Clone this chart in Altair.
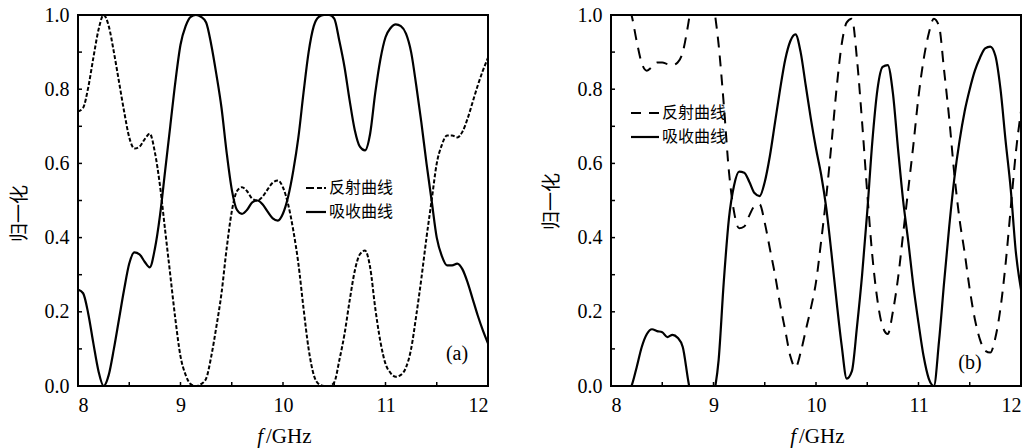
import altair as alt
import pandas as pd

# ---------------- data ----------------
freq_ghz = [8.00, 8.05, 8.10, 8.15, 8.20, 8.25, 8.30, 8.35, 8.40, 8.45,
            8.50, 8.55, 8.60, 8.65, 8.70, 8.75, 8.80, 8.85, 8.90, 8.95,
            9.00, 9.05, 9.10, 9.15, 9.20, 9.25, 9.30, 9.35, 9.40, 9.45,
            9.50, 9.55, 9.60, 9.65, 9.70, 9.75, 9.80, 9.85, 9.90, 9.95,
            10.00, 10.05, 10.10, 10.15, 10.20, 10.25, 10.30, 10.35, 10.40, 10.45,
            10.50, 10.55, 10.60, 10.65, 10.70, 10.75, 10.80, 10.85, 10.90, 10.95,
            11.00, 11.05, 11.10, 11.15, 11.20, 11.25, 11.30, 11.35, 11.40, 11.45,
            11.50, 11.55, 11.60, 11.65, 11.70, 11.75, 11.80, 11.85, 11.90, 11.95,
            12.00]

# panel (a)
refl_a = [0.74, 0.75, 0.805, 0.885, 0.96, 1.0, 0.97, 0.90, 0.82, 0.74,
          0.67, 0.64, 0.645, 0.665, 0.68, 0.63, 0.54, 0.42, 0.30, 0.18,
          0.08, 0.03, 0.005, 0.0, 0.005, 0.02, 0.08, 0.16, 0.25, 0.37,
          0.47, 0.525, 0.536, 0.525, 0.505, 0.50, 0.51, 0.53, 0.548, 0.554,
          0.535, 0.49, 0.42, 0.33, 0.21, 0.10, 0.03, 0.005, 0.0, 0.0,
          0.01, 0.07, 0.14, 0.23, 0.31, 0.355, 0.365, 0.32, 0.21, 0.12,
          0.06, 0.035, 0.025, 0.03, 0.05, 0.10, 0.19, 0.29, 0.40, 0.50,
          0.60, 0.65, 0.675, 0.675, 0.67, 0.685, 0.72, 0.765, 0.81, 0.85,
          0.885]
abs_a = [0.26, 0.25, 0.195, 0.115, 0.04, 0.0, 0.03, 0.10, 0.18, 0.26,
         0.33, 0.36, 0.355, 0.335, 0.32, 0.37, 0.46, 0.58, 0.70, 0.82,
         0.92, 0.97, 0.995, 1.0, 0.995, 0.98, 0.92, 0.84, 0.75, 0.63,
         0.53, 0.475, 0.464, 0.475, 0.495, 0.50, 0.49, 0.47, 0.452, 0.446,
         0.465, 0.51, 0.58, 0.67, 0.79, 0.90, 0.97, 0.995, 1.0, 1.0,
         0.99, 0.93, 0.86, 0.77, 0.69, 0.645, 0.635, 0.68, 0.79, 0.88,
         0.94, 0.965, 0.975, 0.97, 0.95, 0.90, 0.81, 0.71, 0.60, 0.50,
         0.40, 0.35, 0.325, 0.325, 0.33, 0.315, 0.28, 0.235, 0.19, 0.15,
         0.115]

# panel (b)  (values beyond 0..1 leave the frame and are clipped)
refl_b = [1.10, 1.08, 1.06, 1.03, 1.0, 0.93, 0.87, 0.85, 0.86, 0.872,
          0.872, 0.868, 0.865, 0.872, 0.90, 0.97, 1.06, 1.12, 1.15, 1.12,
          1.03, 0.92, 0.76, 0.58, 0.47, 0.425, 0.43, 0.46, 0.485, 0.49,
          0.44, 0.37, 0.30, 0.22, 0.15, 0.08, 0.05, 0.09, 0.15, 0.21,
          0.28, 0.39, 0.51, 0.65, 0.80, 0.92, 0.98, 0.99, 0.88, 0.71,
          0.52, 0.35, 0.23, 0.16, 0.14, 0.20, 0.29, 0.41, 0.53, 0.65,
          0.78, 0.88, 0.95, 0.99, 0.97, 0.85, 0.72, 0.57, 0.45, 0.36,
          0.26, 0.18, 0.125, 0.095, 0.09, 0.13, 0.21, 0.33, 0.48, 0.63,
          0.74]
abs_b = [-0.10, -0.08, -0.05, -0.02, 0.0, 0.05, 0.105, 0.14, 0.153, 0.148,
         0.145, 0.132, 0.138, 0.13, 0.105, 0.02, -0.06, -0.12, -0.14, -0.10,
         -0.03, 0.07, 0.28, 0.45, 0.54, 0.578, 0.575, 0.55, 0.52, 0.512,
         0.55, 0.62, 0.71, 0.80, 0.88, 0.93, 0.948, 0.90, 0.81, 0.72,
         0.64, 0.57, 0.48, 0.36, 0.23, 0.11, 0.02, 0.04, 0.16, 0.30,
         0.47, 0.66, 0.80, 0.86, 0.865, 0.79, 0.64, 0.50, 0.39, 0.27,
         0.17, 0.08, 0.02, 0.0, 0.12, 0.28, 0.43, 0.56, 0.66, 0.74,
         0.80, 0.85, 0.885, 0.91, 0.915, 0.89, 0.80, 0.66, 0.53, 0.36,
         0.26]

x_tick_values = [8.0, 8.5, 9.0, 9.5, 10.0, 10.5, 11.0, 11.5, 12.0]
y_tick_values = [0.0, 0.1, 0.2, 0.3, 0.4, 0.5, 0.6, 0.7, 0.8, 0.9, 1.0]
x_label_values = [8, 9, 10, 11, 12]
y_label_values = [0.0, 0.2, 0.4, 0.6, 0.8, 1.0]
legend_names = ["反射曲线", "吸收曲线"]
y_title = "归一化"
x_title_italic = "f"
x_title_rest = "/GHz"
panel_tags = ["(a)", "(b)"]

# ---------------- layout ----------------
W, H = 410, 371
SERIF = "Liberation Serif"
CJK = "Noto Sans CJK SC"
ROW = 24


def panel(refl, absb, curve_dash, legend_dash, lx0, lx1, ly, tag, tag_x, tag_y,
          title_x, title_y):
    xs = alt.Scale(domain=[8, 12], nice=False, zero=False)
    ys = alt.Scale(domain=[0, 1], nice=False, zero=False)
    x_axis = alt.Axis(values=x_label_values, format="d", ticks=False, tickSize=0,
                      domain=False, grid=False, labelPadding=9, title=None,
                      labelFont=SERIF, labelFontSize=20, labelColor="black")
    y_axis = alt.Axis(values=y_label_values, format=".1f", ticks=False, tickSize=0,
                      domain=False, grid=False, labelPadding=9, title=y_title,
                      titleFont=CJK, titleFontSize=19, titleFontWeight="normal",
                      titleColor="black", titleX=title_x, titleY=title_y,
                      titleBaseline="middle", titleAlign="center",
                      labelFont=SERIF, labelFontSize=20, labelColor="black")

    df_r = pd.DataFrame({"f": freq_ghz, "v": refl})
    df_a = pd.DataFrame({"f": freq_ghz, "v": absb})

    r_line = alt.Chart(df_r).mark_line(
        clip=True, color="black", strokeWidth=2, strokeDash=curve_dash,
        interpolate="monotone"
    ).encode(x=alt.X("f:Q", scale=xs, axis=x_axis),
             y=alt.Y("v:Q", scale=ys, axis=y_axis))
    a_line = alt.Chart(df_a).mark_line(
        clip=True, color="black", strokeWidth=2.2, interpolate="monotone"
    ).encode(x=alt.X("f:Q", scale=xs), y=alt.Y("v:Q", scale=ys))

    xt = alt.Chart(pd.DataFrame({"f": x_tick_values})).mark_rule(
        color="black", strokeWidth=1.5
    ).encode(x=alt.X("f:Q", scale=xs), y=alt.value(H), y2=alt.value(H - 4))
    yt = alt.Chart(pd.DataFrame({"v": y_tick_values})).mark_rule(
        color="black", strokeWidth=1.5
    ).encode(y=alt.Y("v:Q", scale=ys), x=alt.value(0), x2=alt.value(4))

    leg_r = alt.Chart(pd.DataFrame({"k": [0]})).mark_rule(
        color="black", strokeWidth=2, strokeDash=legend_dash
    ).encode(x=alt.value(lx0), x2=alt.value(lx1), y=alt.value(ly))
    leg_a = alt.Chart(pd.DataFrame({"k": [0]})).mark_rule(
        color="black", strokeWidth=2.2
    ).encode(x=alt.value(lx0), x2=alt.value(lx1), y=alt.value(ly + ROW))
    leg_t1 = alt.Chart(pd.DataFrame({"t": [legend_names[0]]})).mark_text(
        align="left", baseline="middle", font=CJK, fontSize=16, color="black"
    ).encode(text="t:N", x=alt.value(lx1 + 3), y=alt.value(ly))
    leg_t2 = alt.Chart(pd.DataFrame({"t": [legend_names[1]]})).mark_text(
        align="left", baseline="middle", font=CJK, fontSize=16, color="black"
    ).encode(text="t:N", x=alt.value(lx1 + 3), y=alt.value(ly + ROW))

    tag_t = alt.Chart(pd.DataFrame({"t": [tag]})).mark_text(
        align="center", baseline="middle", font=SERIF, fontSize=20, color="black"
    ).encode(text="t:N", x=alt.value(tag_x), y=alt.value(tag_y))

    xt1 = alt.Chart(pd.DataFrame({"t": [x_title_italic]})).mark_text(
        align="right", baseline="middle", font=SERIF, fontSize=21,
        fontStyle="italic", color="black"
    ).encode(text="t:N", x=alt.value(W / 2 - 20), y=alt.value(H + 51))
    xt2 = alt.Chart(pd.DataFrame({"t": [x_title_rest]})).mark_text(
        align="left", baseline="middle", font=SERIF, fontSize=21, color="black"
    ).encode(text="t:N", x=alt.value(W / 2 - 17), y=alt.value(H + 51))

    return alt.layer(r_line, a_line, xt, yt, leg_r, leg_a, leg_t1, leg_t2,
                     tag_t, xt1, xt2).properties(width=W, height=H)


pa = panel(refl_a, abs_a, [4, 2], [8, 3, 5, 2], 228, 248, 173,
           panel_tags[0], 379, 339, -58.5, 198)
pb = panel(refl_b, abs_b, [11, 8], [10, 8], 20, 48, 98,
           panel_tags[1], 359, 348, -60, 186)

chart = alt.hconcat(pa, pb, spacing=123, bounds="flush").configure_view(
    stroke="black", strokeWidth=2
).properties(
    padding={"left": 9, "top": 4, "right": 4, "bottom": 4},
    background="white"
)

chart.save("out.html", embed_options={"renderer": "svg", "actions": False})
